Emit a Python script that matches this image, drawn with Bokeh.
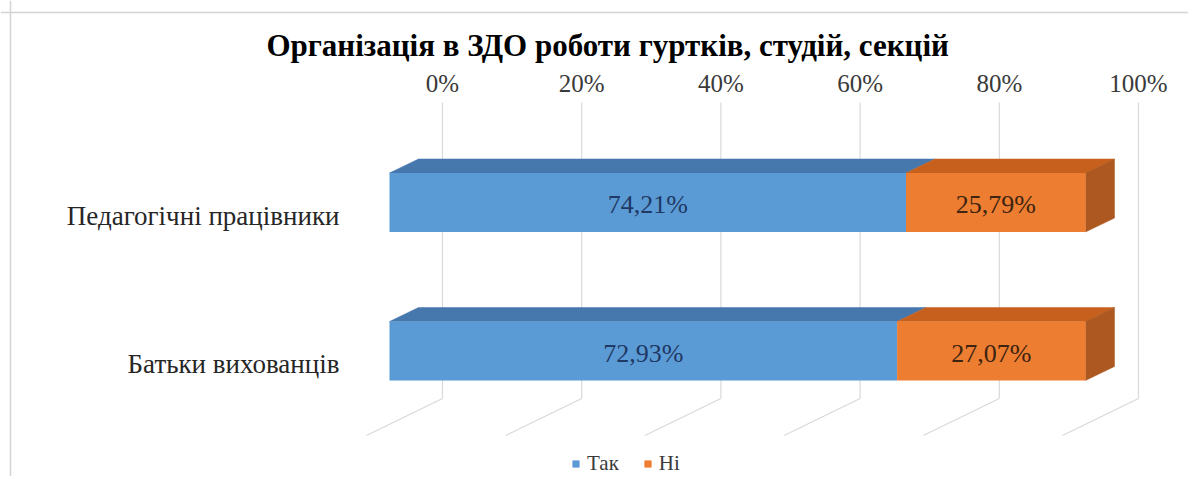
from bokeh.plotting import figure
from bokeh.models import Range1d, ColumnDataSource, Legend, LegendItem, Span
from bokeh.core.properties import value
from bokeh.embed import file_html
from bokeh.resources import INLINE

# ---------------- data ----------------
title_text = "Організація  в ЗДО роботи гуртків, студій, секцій"
categories = ["Батьки вихованців", "Педагогічні працівники"]   # bottom -> top
series = ["Так", "Ні"]
tak = [72.93, 74.21]
ni = [27.07, 25.79]
tak_labels = ["72,93%", "74,21%"]
ni_labels = ["27,07%", "25,79%"]
ticks = [0, 20, 40, 60, 80, 100]
tick_labels = ["0%", "20%", "40%", "60%", "80%", "100%"]

# ---------------- styles ----------------
FONT_NAME = "Liberation Serif"
FONT = value(FONT_NAME)
BLUE_FRONT, BLUE_TOP = "#5b9bd5", "#4677ad"
ORG_FRONT, ORG_TOP, ORG_SIDE = "#ed7d31", "#c7601c", "#ad5820"
GRID = "#d9d9d9"

W, H = 1188, 476
# canvas-pixel geometry -> data scale
X0, PXX = 389.0, 6.96      # x of 0 %, px per percent
Y0, PXY = 350.5, 148.5     # y of category 0, px per category step
def dx(px): return px / PXX
def dy(px): return px / PXY
def px_x(cx): return (cx - X0) / PXX
def px_y(cy): return (Y0 - cy) / PXY

HALF = dy(29.5)           # half height of front face
DEPTH_X, DEPTH_Y = dx(29), dy(14)
WALL_X = dx(53)           # back wall shift
WALL_TOP, WALL_BOT = px_y(102), px_y(398)
FLOOR_X, FLOOR_Y = dx(-76), dy(-37)

p = figure(width=W, height=H, output_backend="svg", toolbar_location=None,
           x_range=Range1d(px_x(0), px_x(W)), y_range=Range1d(px_y(H), px_y(0)),
           x_axis_location=None, y_axis_location=None, min_border=0,
           outline_line_color=None, background_fill_color="white")
p.grid.visible = False

# chart border (top / left)
p.add_layout(Span(location=px_x(10), dimension="height", line_color="#d4d4d4", line_width=1.5))
p.add_layout(Span(location=px_y(12), dimension="width", line_color="#d4d4d4", line_width=1.5))

# back wall + floor gridlines
gx = [t + WALL_X for t in ticks]
p.segment(x0=gx, y0=[WALL_TOP] * len(ticks), x1=gx, y1=[WALL_BOT] * len(ticks),
          line_color=GRID, line_width=1.2)
p.segment(x0=gx, y0=[WALL_BOT] * len(ticks), x1=[g + FLOOR_X for g in gx],
          y1=[WALL_BOT + FLOOR_Y] * len(ticks), line_color=GRID, line_width=1.2)

# tick labels along the top
p.text(x=gx, y=[px_y(83)] * len(ticks), text=tick_labels, text_font=FONT,
       text_font_size="25px", text_color="#3a3a3a", text_align="center",
       text_baseline="middle")

# title
p.text(x=[px_x(611)], y=[px_y(45)], text=[title_text], text_font=FONT,
       text_font_size="31px", text_font_style="bold", text_color="#000000",
       text_align="center", text_baseline="middle")

# bars
idx = list(range(len(categories)))
starts_t = [0.0] * len(idx)
ends_t = tak[:]
starts_n = ends_t[:]
ends_n = [a + b for a, b in zip(tak, ni)]

def top_face(s, e, i):
    yt = i + HALF
    return [s, e, e + DEPTH_X, s + DEPTH_X], [yt, yt, yt + DEPTH_Y, yt + DEPTH_Y]

def side_face(e, i):
    yt, yb = i + HALF, i - HALF
    return [e, e + DEPTH_X, e + DEPTH_X, e], [yt, yt + DEPTH_Y, yb + DEPTH_Y, yb]

tops_t = [top_face(s, e, i) for s, e, i in zip(starts_t, ends_t, idx)]
tops_n = [top_face(s, e, i) for s, e, i in zip(starts_n, ends_n, idx)]
sides_n = [side_face(e, i) for e, i in zip(ends_n, idx)]

p.patches(xs=[t[0] for t in tops_t], ys=[t[1] for t in tops_t],
          fill_color=BLUE_TOP, line_color=BLUE_TOP, line_width=0.5)
p.patches(xs=[t[0] for t in tops_n], ys=[t[1] for t in tops_n],
          fill_color=ORG_TOP, line_color=ORG_TOP, line_width=0.5)
p.patches(xs=[t[0] for t in sides_n], ys=[t[1] for t in sides_n],
          fill_color=ORG_SIDE, line_color=ORG_SIDE, line_width=0.5)

src_t = ColumnDataSource(dict(left=starts_t, right=ends_t,
                              bottom=[i - HALF for i in idx], top=[i + HALF for i in idx]))
src_n = ColumnDataSource(dict(left=starts_n, right=ends_n,
                              bottom=[i - HALF for i in idx], top=[i + HALF for i in idx]))
r_t = p.quad(left="left", right="right", bottom="bottom", top="top", source=src_t,
             fill_color=BLUE_FRONT, line_color=None)
r_n = p.quad(left="left", right="right", bottom="bottom", top="top", source=src_n,
             fill_color=ORG_FRONT, line_color=None)

# data labels
p.text(x=[(s + e) / 2 for s, e in zip(starts_t, ends_t)], y=[i + dy(-2) for i in idx],
       text=tak_labels, text_font=FONT, text_font_size="26px", text_color="#1f3864",
       text_align="center", text_baseline="middle")
p.text(x=[(s + e) / 2 for s, e in zip(starts_n, ends_n)], y=[i + dy(-2) for i in idx],
       text=ni_labels, text_font=FONT, text_font_size="26px", text_color="#3d2410",
       text_align="center", text_baseline="middle")

# category labels
p.text(x=[px_x(339)] * len(idx), y=[i + dy(-13) for i in idx], text=categories,
       text_font=FONT, text_font_size="27px", text_color="#262626",
       text_align="right", text_baseline="middle")

# legend
legend = Legend(items=[LegendItem(label=series[0], renderers=[r_t]),
                       LegendItem(label=series[1], renderers=[r_n])],
                location=(571, 0), orientation="horizontal",
                glyph_width=9, glyph_height=9, label_standoff=7, spacing=24,
                padding=0, margin=0, border_line_color=None, background_fill_alpha=0,
                label_text_font=FONT_NAME, label_text_font_size="21px",
                label_text_color="#3a3a3a")
p.add_layout(legend)

open("out.html", "w").write(file_html(p, INLINE))
